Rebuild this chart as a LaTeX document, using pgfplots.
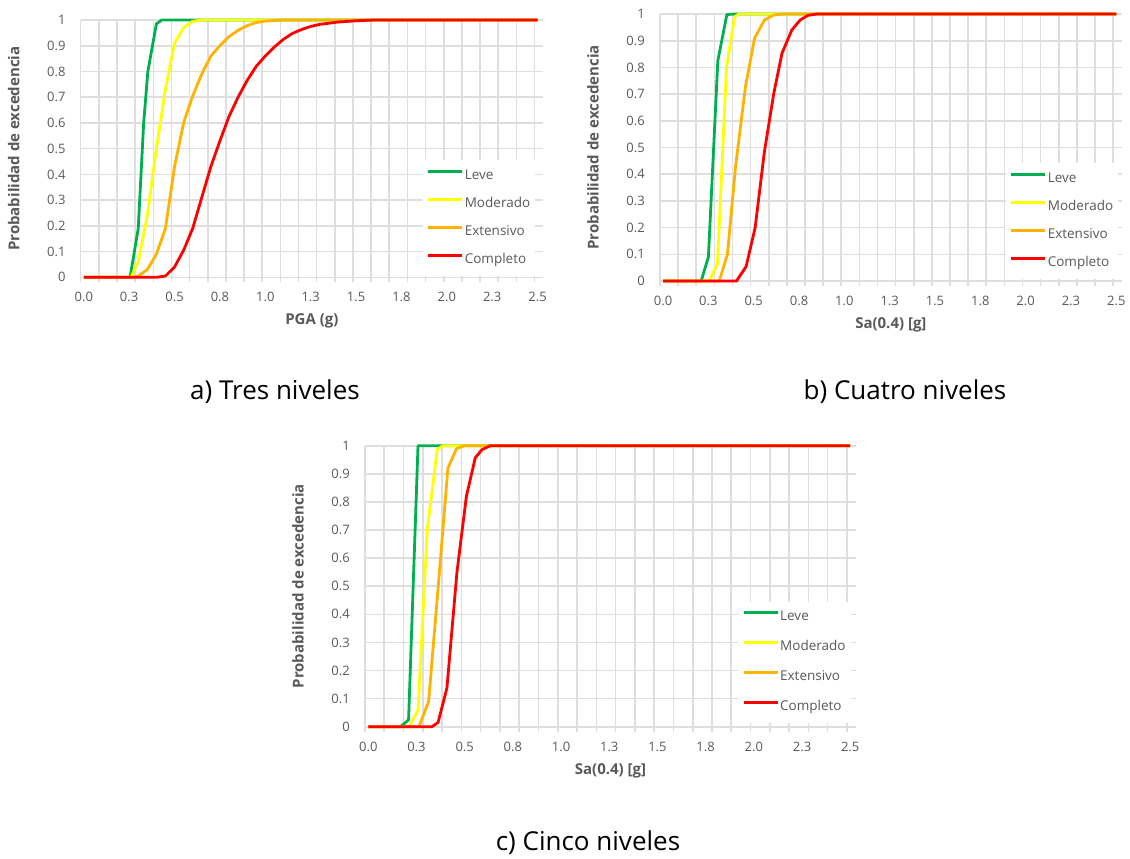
\documentclass[border=0pt]{standalone}
\usepackage{pgfplots}
\pgfplotsset{compat=1.18}
\usepackage{fontspec}
\setmainfont{Open Sans}

\definecolor{leve}{HTML}{00B050}
\definecolor{moder}{HTML}{FFFF00}
\definecolor{exten}{HTML}{FFB300}
\definecolor{compl}{HTML}{FF0000}
\definecolor{gridc}{HTML}{DEDEDE}
\definecolor{txt}{HTML}{595959}

\pgfplotsset{
  panel/.style={
    scale only axis, clip=false,
    xmin=-0.017, xmax=2.53, ymin=0, ymax=1,
    xtick={0,0.25,0.5,0.75,1,1.25,1.5,1.75,2,2.25,2.5},
    xticklabels={0.0,0.3,0.5,0.8,1.0,1.3,1.5,1.8,2.0,2.3,2.5},
    minor xtick={-0.017,0.083,...,2.5},
    ytick={0,0.1,0.2,0.3,0.4,0.5,0.6,0.7,0.8,0.9,1},
    yticklabels={0,0.1,0.2,0.3,0.4,0.5,0.6,0.7,0.8,0.9,1},
    ymajorgrids, xminorgrids,
    major grid style={gridc, line width=1.6pt},
    minor grid style={gridc, line width=1.6pt},
    major tick length=0pt, minor tick length=5pt, tick align=outside,
    xtick pos=bottom, ytick pos=left,
    every minor tick/.append style={gridc, line width=1.6pt},
    axis line style={draw=none},
    /pgf/number format/assume math mode=true,
    tick label style={font=\fontsize{13}{15}\selectfont, text=txt},
    xticklabel style={anchor=center, yshift=-20pt, inner sep=0pt},
    yticklabel style={anchor=east, xshift=-15pt, inner sep=0pt},
    every axis plot/.append style={line width=2.8pt, line join=round},
    legend image code/.code={\draw[#1] (0pt,4.8pt)--(34pt,4.8pt);},
    legend cell align=left,
    ylabel={Probabilidad de excedencia},
    every axis y label/.style={at={([xshift=-67pt]axis description cs:0,0.5)},
      rotate=90, anchor=center, font=\bfseries\fontsize{15}{17}\selectfont, text=txt},
    every axis x label/.style={at={([yshift=-44pt]axis description cs:0.5,0)},
      anchor=center, font=\bfseries\fontsize{15}{17}\selectfont, text=txt},
  },
  leg/.style 2 args={legend style={at={(#1)}, anchor=north west, draw=none,
    fill=white, inner xsep=4pt, inner ysep=8pt, row sep=#2,
    font=\fontsize{13.5}{15}\selectfont, text=txt,
    nodes={inner sep=1pt, text height=10pt, text depth=3.5pt}}},
}

\begin{document}
\begin{tikzpicture}
\path[use as bounding box] (0,0) rectangle (1130pt,-859pt);

% a) Tres niveles
\begin{axis}[panel, at={(80.7pt,-277.3pt)}, anchor=south west,
  width=462.3pt, height=257.3pt, xlabel={PGA (g)}, leg={0.740,0.456}{12.5pt}]
\addplot[leve] coordinates {(0,0)(0.255,0)(0.3,0.19)(0.33,0.6)(0.353,0.8)(0.4,0.985)(0.43,1)(2.5,1)};
\addlegendentry{Leve}
\addplot[moder] coordinates {(0,0)(0.26,0)(0.3,0.06)(0.35,0.24)(0.4,0.5)(0.45,0.73)(0.5,0.91)(0.55,0.97)(0.6,0.995)(0.65,1)(2.5,1)};
\addlegendentry{Moderado}
\addplot[exten] coordinates {(0,0)(0.27,0)(0.3,0.005)(0.35,0.03)(0.4,0.09)(0.45,0.19)(0.5,0.43)(0.55,0.6)(0.6,0.705)(0.65,0.79)(0.7,0.86)(0.75,0.9)(0.8,0.935)(0.85,0.96)(0.9,0.978)(0.95,0.99)(1.0,0.996)(1.1,1)(2.5,1)};
\addlegendentry{Extensivo}
\addplot[compl] coordinates {(0,0)(0.4,0)(0.45,0.005)(0.5,0.04)(0.55,0.105)(0.6,0.19)(0.65,0.31)(0.7,0.43)(0.75,0.53)(0.8,0.625)(0.85,0.7)(0.9,0.765)(0.95,0.82)(1.0,0.86)(1.05,0.895)(1.1,0.925)(1.15,0.948)(1.2,0.963)(1.25,0.975)(1.3,0.983)(1.4,0.992)(1.5,0.997)(1.6,1)(2.5,1)};
\addlegendentry{Completo}
\end{axis}

% b) Cuatro niveles
\begin{axis}[panel, at={(660pt,-281pt)}, anchor=south west,
  width=461.7pt, height=267pt, xlabel={Sa(0.4) [g]}, leg={0.749,0.442}{12.5pt}]
\addplot[leve] coordinates {(0,0)(0.21,0)(0.25,0.09)(0.302,0.825)(0.352,0.998)(0.4,1)(2.5,1)};
\addlegendentry{Leve}
\addplot[moder] coordinates {(0,0)(0.255,0)(0.3,0.065)(0.35,0.8)(0.395,0.99)(0.42,1)(2.5,1)};
\addlegendentry{Moderado}
\addplot[exten] coordinates {(0,0)(0.31,0)(0.355,0.1)(0.4,0.43)(0.455,0.73)(0.505,0.91)(0.56,0.978)(0.61,0.996)(0.66,1)(2.5,1)};
\addlegendentry{Extensivo}
\addplot[compl] coordinates {(0,0)(0.405,0)(0.458,0.054)(0.508,0.2)(0.558,0.48)(0.61,0.7)(0.656,0.853)(0.71,0.94)(0.757,0.978)(0.8,0.995)(0.85,1)(2.5,1)};
\addlegendentry{Completo}
\end{axis}

% c) Cinco niveles
\begin{axis}[panel, at={(365pt,-726.7pt)}, anchor=south west,
  width=491pt, height=281pt, xlabel={Sa(0.4) [g]}, leg={0.760,0.445}{14.5pt}]
\addplot[leve] coordinates {(0,0)(0.166,0)(0.209,0.024)(0.258,1)(2.5,1)};
\addlegendentry{Leve}
\addplot[moder] coordinates {(0,0)(0.212,0)(0.258,0.058)(0.306,0.7)(0.358,0.988)(0.39,1)(2.5,1)};
\addlegendentry{Moderado}
\addplot[exten] coordinates {(0,0)(0.263,0)(0.313,0.09)(0.363,0.5)(0.413,0.92)(0.458,0.99)(0.5,1)(2.5,1)};
\addlegendentry{Extensivo}
\addplot[compl] coordinates {(0,0)(0.33,0)(0.362,0.015)(0.408,0.138)(0.46,0.55)(0.509,0.82)(0.555,0.957)(0.59,0.986)(0.633,1)(2.5,1)};
\addlegendentry{Completo}
\end{axis}

\node[font=\fontsize{26}{30}\selectfont] at (275pt,-392pt) {a) Tres niveles};
\node[font=\fontsize{26}{30}\selectfont] at (905pt,-392pt) {b) Cuatro niveles};
\node[font=\fontsize{26}{30}\selectfont] at (588pt,-843pt) {c) Cinco niveles};
\end{tikzpicture}
\end{document}
